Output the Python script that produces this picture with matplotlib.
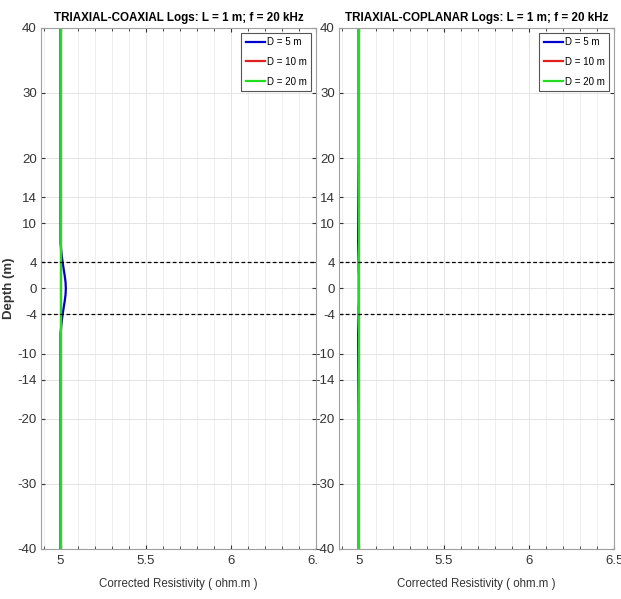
import matplotlib.pyplot as plt
import numpy as np
from matplotlib.ticker import MultipleLocator
from matplotlib.transforms import Bbox

plt.rcParams['font.family'] = ['Liberation Sans', 'DejaVu Sans']
plt.rcParams['axes.unicode_minus'] = False

# depth samples (m)
depth = [40, 20, 12, 8, 7, 6, 5, 4, 3, 2, 1, 0, -1, -2, -3, -4, -5, -6, -7, -8, -12, -20, -40]

# coaxial corrected resistivity (ohm.m)
coax_d5 = [5.0, 5.0, 5.0, 5.0, 5.0, 5.003, 5.007, 5.012, 5.018, 5.024, 5.029, 5.031,
           5.029, 5.024, 5.018, 5.012, 5.007, 5.003, 5.0, 5.0, 5.0, 5.0, 5.0]
coax_d10 = [5.0] * len(depth)
coax_d20 = [5.0] * len(depth)

# coplanar corrected resistivity (ohm.m)
copl_d5 = [5.0, 5.0, 4.998, 4.997, 4.997, 4.998, 4.999, 5.0, 5.0, 5.001, 5.001, 5.001,
           5.001, 5.001, 5.0, 5.0, 4.999, 4.998, 4.997, 4.997, 4.998, 5.0, 5.0]
copl_d10 = [5.0] * len(depth)
copl_d20 = [5.0] * len(depth)

yticks = [-40, -30, -20, -14, -10, -4, 0, 4, 10, 14, 20, 30, 40]
xticks = [5, 5.5, 6, 6.5]
boundaries = [4, -4]
labels = ['D = 5 m', 'D = 10 m', 'D = 20 m']
colors = ['#0000cc', '#e02020', '#22dd22']

fig = plt.figure(figsize=(6.21, 5.99), dpi=100)
ax1 = fig.add_axes([0.066, 0.0835, 0.443, 0.870])
ax2 = fig.add_axes([0.546, 0.0835, 0.443, 0.870])


def style_axes(ax, series_list, title):
    for series, lab, col in zip(series_list, labels, colors):
        ax.plot(series, depth, color=col, lw=1.6, label=lab)
    for b in boundaries:
        ax.axhline(b, color='black', ls=(0, (3, 2)), lw=0.9)
    ax.set_xlim(4.885, 6.5)
    ax.set_ylim(-40, 40)
    ax.set_xticks(xticks)
    ax.set_xticklabels(['5', '5.5', '6', '6.5'])
    ax.set_yticks(yticks)
    ax.xaxis.set_minor_locator(MultipleLocator(0.1))
    ax.tick_params(which='both', direction='in', top=True, right=True,
                   labelsize=9.5, colors='#333333', length=3, pad=4)
    ax.tick_params(axis='y', pad=3)
    ax.tick_params(which='minor', length=2)
    ax.grid(True, which='major', color='#e4e4e4', lw=0.7)
    ax.grid(True, which='minor', axis='x', color='#ececec', lw=0.6)
    ax.set_axisbelow(True)
    for s in ax.spines.values():
        s.set_color('#a0a0a0')
        s.set_linewidth(0.8)
    ax.set_title(title, fontsize=8.4, fontweight='bold', pad=5)
    ax.set_xlabel('Corrected Resistivity ( ohm.m )', fontsize=8.3, color='#333333', labelpad=8)
    leg = ax.legend(loc='upper right', fontsize=7, handlelength=2.0,
                    borderaxespad=0.5, fancybox=False, framealpha=1,
                    edgecolor='#555555', handletextpad=0.2, labelspacing=1.0,
                    borderpad=0.45)
    leg.get_frame().set_linewidth(0.8)


style_axes(ax1, [coax_d5, coax_d10, coax_d20], 'TRIAXIAL-COAXIAL Logs: L = 1 m; f = 20 kHz')
style_axes(ax2, [copl_d5, copl_d10, copl_d20], 'TRIAXIAL-COPLANAR Logs: L = 1 m; f = 20 kHz')
ax1.set_ylabel('Depth (m)', fontsize=9.5, fontweight='bold', color='#333333')
ax1.yaxis.set_label_coords(-0.093, 0.5)

# the left panel's last tick label is cut off by the neighbouring panel
clip = Bbox([[0, 0], [319, 599]])
for lbl in ax1.get_xticklabels():
    lbl.set_clip_box(clip)
    lbl.set_clip_on(True)

fig.savefig('out.png', dpi=100)
